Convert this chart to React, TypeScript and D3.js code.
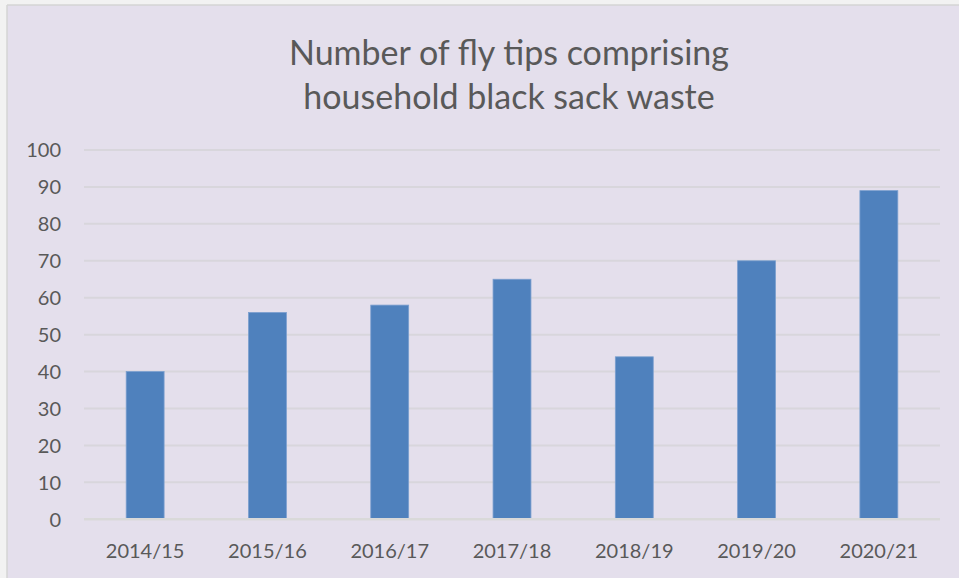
import React from "react";
import * as d3 from "d3";

const categories: string[] = ["2014/15", "2015/16", "2016/17", "2017/18", "2018/19", "2019/20", "2020/21"];
const values: number[] = [40, 56, 58, 65, 44, 70, 89];
const yTicks: number[] = [0, 10, 20, 30, 40, 50, 60, 70, 80, 90, 100];
const titleLines: string[] = ["Number of fly tips comprising", "household black sack waste"];

const W = 959;
const H = 578;
const plot = { left: 84, right: 940, top: 150, bottom: 519.3 };
const font = "Lato, 'Open Sans', sans-serif";
const textColor = "#595959";

export default function App() {
  const x = d3
    .scaleBand<string>()
    .domain(categories)
    .range([plot.left, plot.right])
    .paddingInner(0.69)
    .paddingOuter(0.345);
  const y = d3.scaleLinear().domain([0, 100]).range([plot.bottom, plot.top]);
  const band = d3.scaleBand<string>().domain(categories).range([plot.left, plot.right]);

  return (
    <svg width={W} height={H} style={{ position: "absolute", left: 0, top: 0, display: "block" }}>
      <rect x={0} y={0} width={W} height={H} fill="#f2f2f2" />
      <rect x={7} y={5} width={W - 7} height={H - 5} fill="#e4dfec" />
      <line x1={7} y1={5} x2={W} y2={5} stroke="#d4d4d4" strokeWidth={1.5} />
      <line x1={7} y1={5} x2={7} y2={H} stroke="#d4d4d4" strokeWidth={1.5} />

      {titleLines.map((t, i) => (
        <text
          key={t}
          x={509}
          y={65 + i * 44}
          textAnchor="middle"
          fontFamily={font}
          fontSize={34}
          fill={textColor}
        >
          {t}
        </text>
      ))}

      {yTicks.map((t) => (
        <g key={t}>
          {t !== 0 && (
            <line x1={plot.left} x2={plot.right} y1={y(t)} y2={y(t)} stroke="#d8d6dc" strokeWidth={2} />
          )}
          <text
            x={61}
            y={y(t)}
            dy="0.36em"
            textAnchor="end"
            fontFamily={font}
            fontSize={20}
            fill={textColor}
          >
            {t}
          </text>
        </g>
      ))}

      {categories.map((c, i) => (
        <rect
          key={c}
          x={x(c)}
          y={y(values[i])}
          width={x.bandwidth()}
          height={y(0) - y(values[i])}
          fill="#4f81bd"
          stroke="#7b9fcf"
          strokeWidth={0.8}
        />
      ))}

      <line x1={plot.left} x2={plot.right} y1={y(0)} y2={y(0)} stroke="#d9d9d9" strokeWidth={2.5} />

      {categories.map((c) => (
        <text
          key={c}
          x={(band(c) as number) + band.bandwidth() / 2}
          y={558}
          textAnchor="middle"
          fontFamily={font}
          fontSize={20}
          fill={textColor}
        >
          {c}
        </text>
      ))}
    </svg>
  );
}
